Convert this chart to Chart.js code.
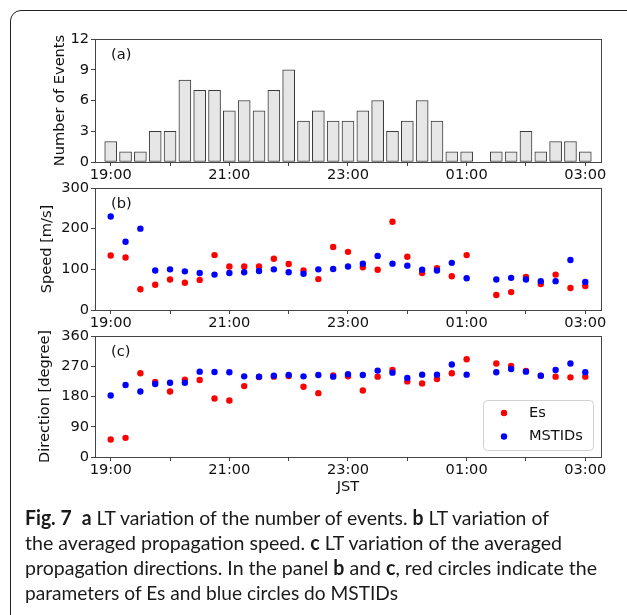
<!DOCTYPE html>
<html><head><meta charset="utf-8">
<script src="https://cdn.jsdelivr.net/npm/chart.js@4.4.0/dist/chart.umd.min.js"></script>
<style>
html,body{margin:0;padding:0;background:#fff;width:627px;height:615px;overflow:hidden;position:relative;}
#frame{position:absolute;left:10px;top:10px;width:660px;height:640px;border:1.5px solid #222;border-radius:11px;box-sizing:border-box;}
canvas{position:absolute;left:0;top:0;}
.cap{position:absolute;left:25px;font-family:Lato,sans-serif;font-size:20px;line-height:20px;color:#1a1a1a;white-space:nowrap;transform-origin:0 0;}
.cap b{font-weight:700;}
</style></head><body>
<div id="frame"></div>
<canvas id="ca" width="627" height="615"></canvas>
<canvas id="cb" width="627" height="615"></canvas>
<canvas id="cc" width="627" height="615"></canvas>
<div class="cap" id="l1" style="top:507px"><b>Fig. 7</b>&nbsp; <b>a</b> LT variation of the number of events. <b>b</b> LT variation of</div>
<div class="cap" id="l2" style="top:532px">the averaged propagation speed. <b>c</b> LT variation of the averaged</div>
<div class="cap" id="l3" style="top:557px">propagation directions. In the panel <b>b</b> and <b>c</b>, red circles indicate the</div>
<div class="cap" id="l4" style="top:582px">parameters of Es and blue circles do MSTIDs</div>
<script>
// ---- data ----
const timeSlots = ['19:00','19:15','19:30','19:45','20:00','20:15','20:30','20:45',
  '21:00','21:15','21:30','21:45','22:00','22:15','22:30','22:45',
  '23:00','23:15','23:30','23:45','00:00','00:15','00:30','00:45',
  '01:00','01:15','01:30','01:45','02:00','02:15','02:30','02:45','03:00'];
const eventCounts = [2,1,1,3,3,8,7,7,5,6,5,7,9,4,5,4,4,5,6,3,4,6,4,1,1,0,1,1,3,1,2,2,1];
const speedEs     = [134,129,51,62,75,67,74,135,107,107,107,126,113,97,76,155,143,105,99,217,131,91,103,83,135,null,37,44,81,64,87,54,59];
const speedMSTIDs = [230,168,200,97,100,95,91,87,91,93,96,100,93,89,100,101,107,114,133,114,109,99,97,116,78,null,75,79,75,71,71,123,69];
const dirEs       = [52,57,249,223,195,230,229,174,168,211,238,239,241,209,190,243,240,198,239,259,225,219,232,249,291,null,278,271,256,242,239,237,239];
const dirMSTIDs   = [183,214,195,217,221,221,254,253,252,240,239,242,244,240,244,239,246,244,257,251,235,245,245,275,245,null,252,262,254,242,259,278,252];
const hourTicks   = [0,1,2,3,4,5,6,7,8];
const tickLabels  = ['19:00','','21:00','','23:00','','01:00','','03:00'];
const seriesNames = ['Es','MSTIDs'];
const seriesColors = ['#ff0000','#0000ff'];

// ---- helpers ----
const toHours = s => { const [h,m] = s.split(':').map(Number); return ((h - 19 + 24) % 24) + m/60; };
const xs = timeSlots.map(toHours);
const pts = arr => arr.map((v,i)=> v==null ? null : {x: xs[i], y: v}).filter(p=>p);

Chart.defaults.font.family = "'DejaVu Sans'";
Chart.defaults.font.size = 14.6;
Chart.defaults.color = '#111';
Chart.defaults.animation = false;

const frameColor = '#444';
function xScale(height, showTitle) {
  return {
    type: 'linear', min: -0.265, max: 8.265, offset:false,
    afterBuildTicks: s => { s.ticks = hourTicks.map(v=>({value:v})); },
    afterFit: s => { s.height = height; },
    ticks: { autoSkip:false, maxRotation:0, padding:0, callback:(v,i)=>tickLabels[i], color:'#111' },
    grid: { offset:false, drawOnChartArea:false, drawTicks:true, tickLength:4, color:frameColor },
    border: { display:false },
    title: { display: showTitle, text: 'JST', padding:{top:0,bottom:0}, color:'#111' }
  };
}
function yScale(min, max, step, title, titlePad) {
  return {
    min, max,
    afterFit: s => { s.width = 95; },
    ticks: { stepSize: step, padding: 2, color:'#111' },
    grid: { drawOnChartArea:false, drawTicks:true, tickLength:4, color:frameColor },
    border: { display:false },
    title: { display:true, text:title, padding:{top:titlePad,bottom:0}, color:'#111' }
  };
}
const panelPlugin = (label, legend) => ({
  id: 'panel',
  afterDraw(chart) {
    const {ctx, chartArea:a} = chart;
    ctx.save();
    ctx.strokeStyle = frameColor; ctx.lineWidth = 1;
    ctx.strokeRect(Math.round(a.left)+0.5, Math.round(a.top)+0.5, Math.round(a.right-a.left), Math.round(a.bottom-a.top));
    ctx.fillStyle = '#111'; ctx.font = "14.6px 'DejaVu Sans'";
    ctx.textBaseline = 'middle'; ctx.textAlign = 'left';
    ctx.fillText(label, a.left + 16, a.top + 16);
    if (legend) {
      const bx = 483, by = 400, bw = 110, bh = 50;
      ctx.beginPath(); ctx.roundRect(bx+0.5, by+0.5, bw, bh, 4);
      ctx.fillStyle = 'rgba(255,255,255,0.85)'; ctx.fill();
      ctx.strokeStyle = '#d0d0d0'; ctx.stroke();
      seriesNames.forEach((n,i)=>{
        const cy = by + 13 + i*23.5;
        ctx.beginPath(); ctx.arc(bx+21, cy, 3.2, 0, Math.PI*2);
        ctx.fillStyle = seriesColors[i]; ctx.fill();
        ctx.fillStyle = '#111'; ctx.fillText(n, bx+46, cy);
      });
    }
    ctx.restore();
  }
});
const common = (padTop, padBottom) => ({
  responsive:false, maintainAspectRatio:false,
  layout:{ padding:{ left:0, right:26, top:padTop, bottom:padBottom } },
  plugins:{ legend:{display:false}, tooltip:{enabled:false} }
});
function scatterSets(a, b) {
  return [
    { type:'scatter', label:seriesNames[0], data:pts(a), backgroundColor:seriesColors[0], borderWidth:0, pointRadius:3.2, order:1 },
    { type:'scatter', label:seriesNames[1], data:pts(b), backgroundColor:seriesColors[1], borderWidth:0, pointRadius:3.2, order:0 }
  ];
}

// panel (a)
new Chart(document.getElementById('ca'), {
  type:'bar',
  data:{ datasets:[{ label:'Number of Events', data: eventCounts.map((v,i)=>({x:xs[i], y:v})),
    backgroundColor:'#e6e6e6', borderColor:'#3a3a3a', borderWidth:1, barThickness:12, borderSkipped:false }] },
  options:{ ...common(39, 430),
    scales:{ x: xScale(23,false), y: yScale(0,12,3,'Number of Events',51.6) } },
  plugins:[panelPlugin('(a)', false)]
});
// panel (b)
new Chart(document.getElementById('cb'), {
  type:'scatter',
  data:{ datasets: scatterSets(speedEs, speedMSTIDs) },
  options:{ ...common(188, 280),
    scales:{ x: xScale(25,false), y: yScale(0,300,100,'Speed [m/s]',38.6) } },
  plugins:[panelPlugin('(b)', false)]
});
// panel (c)
new Chart(document.getElementById('cc'), {
  type:'scatter',
  data:{ datasets: scatterSets(dirEs, dirMSTIDs) },
  options:{ ...common(336, 119),
    scales:{ x: xScale(39,true), y: yScale(0,360,90,'Direction [degree]',36.6) } },
  plugins:[panelPlugin('(c)', true)]
});

// fit caption lines to reference widths
const capWidths = {l1:524, l2:537, l3:572, l4:373};
Object.entries(capWidths).forEach(([id,w])=>{
  const el = document.getElementById(id);
  const r = el.getBoundingClientRect().width;
  el.style.transform = 'scaleX(' + (w/r) + ')';
});
</script>
</body></html>
